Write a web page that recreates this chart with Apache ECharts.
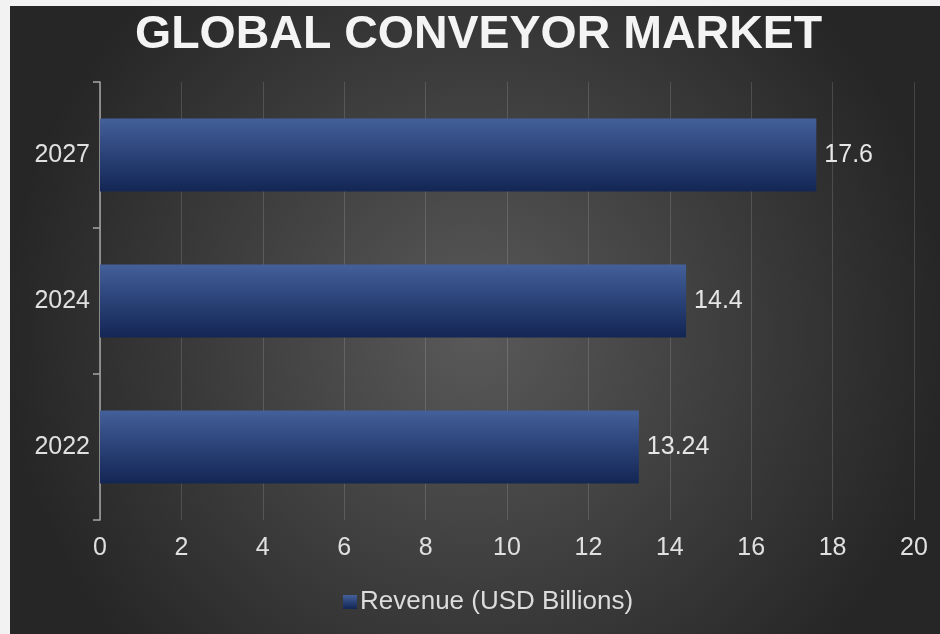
<!DOCTYPE html>
<html>
<head>
<meta charset="utf-8">
<script src="https://cdn.jsdelivr.net/npm/echarts@6/dist/echarts.min.js"></script>
<style>
  html, body { margin: 0; padding: 0; background: #f2f2f2; width: 940px; height: 634px; overflow: hidden; }
  #chart { position: absolute; left: 10px; top: 6px; width: 930px; height: 628px; }
</style>
</head>
<body>
<div id="chart"></div>
<script>
// Global conveyor market revenue by year
const years = ['2022', '2024', '2027'];
const revenue = [13.24, 14.4, 17.6];
const xTicks = { min: 0, max: 20, interval: 2 };
const seriesName = 'Revenue (USD Billions)';
const titleText = 'GLOBAL CONVEYOR MARKET';

const font = '"Liberation Sans", Arial, sans-serif';
const chart = echarts.init(document.getElementById('chart'), null, { renderer: 'canvas' });

const barFill = new echarts.graphic.LinearGradient(0, 0, 0, 1, [
  { offset: 0, color: '#44609a' },
  { offset: 0.5, color: '#2a4277' },
  { offset: 1, color: '#132654' }
]);

chart.setOption({
  backgroundColor: new echarts.graphic.RadialGradient(0.5, 0.52, 0.75, [
    { offset: 0, color: '#595959' },
    { offset: 0.6, color: '#3a3a3a' },
    { offset: 1, color: '#262626' }
  ]),
  title: {
    text: titleText,
    left: 120,
    top: 1,
    textStyle: { color: '#f4f4f4', fontSize: 46.5, fontWeight: 'bold', fontFamily: font }
  },
  legend: {
    bottom: 14,
    left: 328,
    itemWidth: 14,
    itemHeight: 14,
    itemGap: 6,
    icon: 'rect',
    textStyle: { color: '#dcdcdc', fontSize: 26, fontFamily: font, padding: [0, 0, 0, -2] },
    data: [seriesName]
  },
  grid: { left: 90, right: 26, top: 76, bottom: 114, containLabel: false },
  xAxis: {
    type: 'value',
    min: xTicks.min,
    max: xTicks.max,
    interval: xTicks.interval,
    axisLine: { show: false },
    axisTick: { show: false },
    axisLabel: { color: '#e0e0e0', fontSize: 25, fontFamily: font, margin: 16 },
    splitLine: { show: true, lineStyle: { color: 'rgba(255,255,255,0.14)', width: 1 } }
  },
  yAxis: {
    type: 'category',
    data: years,
    axisLine: { show: true, lineStyle: { color: '#a6a6a6', width: 1.5 } },
    axisTick: { show: true, length: 7, lineStyle: { color: '#a6a6a6', width: 1.5 } },
    axisLabel: { color: '#e0e0e0', fontSize: 25, fontFamily: font, margin: 10 }
  },
  series: [{
    name: seriesName,
    type: 'bar',
    data: revenue,
    barWidth: '50%',
    itemStyle: { color: barFill },
    label: {
      show: true,
      position: 'right',
      distance: 8,
      color: '#e6e6e6',
      fontSize: 25,
      fontFamily: font
    }
  }]
});
</script>
</body>
</html>
